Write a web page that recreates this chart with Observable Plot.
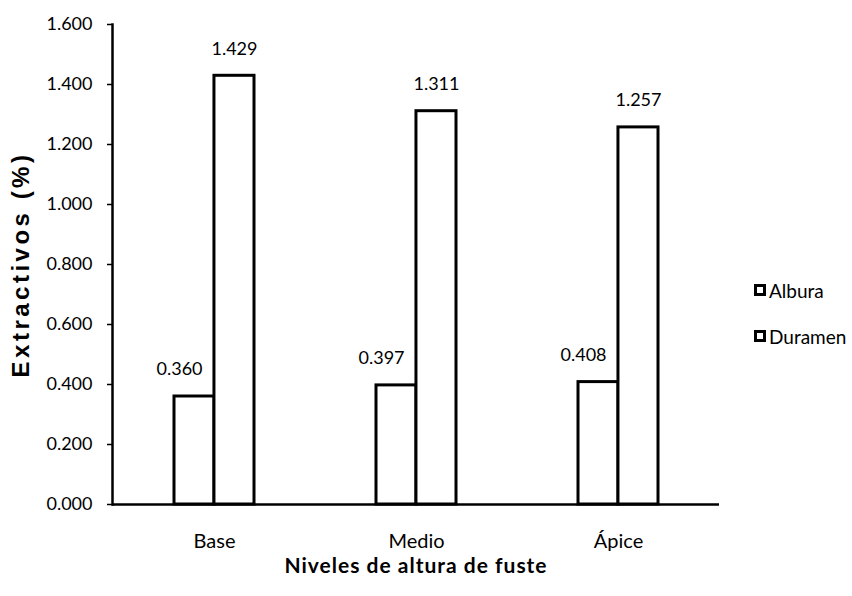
<!DOCTYPE html>
<html>
<head>
<meta charset="utf-8">
<script src="https://cdn.jsdelivr.net/npm/d3@7"></script>
<script src="https://cdn.jsdelivr.net/npm/@observablehq/plot@0.6"></script>
<style>
  html, body { margin: 0; padding: 0; background: #fff; }
  #chart { position: relative; width: 852px; height: 596px; }
  #legend { position: absolute; left: 754px; top: 277px; font-family: Lato, "Open Sans", sans-serif; font-size: 19px; color: #000; }
  #legend .item { display: flex; align-items: center; height: 26px; margin-bottom: 20px; }
  #legend .swatch { width: 6px; height: 6px; border: 3px solid #000; background: #fff; margin-right: 3px; }
</style>
</head>
<body>
<div id="chart"></div>
<script>
// Extractivos por nivel de altura del fuste
const categories = ["Base", "Medio", "Ápice"];
const seriesNames = ["Albura", "Duramen"];
const alburaValues = [0.360, 0.397, 0.408];
const duramenValues = [1.429, 1.311, 1.257];
const yTicks = [0, 0.2, 0.4, 0.6, 0.8, 1.0, 1.2, 1.4, 1.6];
const yTitle = "Extractivos (%)";
const xTitle = "Niveles de altura de fuste";

const rows = (values, serie) => categories.map((c, i) => ({nivel: c, serie, valor: values[i]}));
const albura = rows(alburaValues, seriesNames[0]);
const duramen = rows(duramenValues, seriesNames[1]);

const W = 852, H = 596;
const mL = 112, mR = 133, mT = 24, mB = 92;
const padInner = 0.605;
const step = (W - mL - mR) / categories.length;
const half = step * (1 - padInner) / 2;   // each series takes half of the band

const fmt = d3.format(".3f");
const numFont = "Lato, 'Open Sans', sans-serif";

const chart = Plot.plot({
  width: W,
  height: H,
  marginLeft: mL,
  marginRight: mR,
  marginTop: mT,
  marginBottom: mB,
  style: {fontFamily: numFont, color: "#000", background: "#fff"},
  x: {domain: categories, paddingInner: padInner, paddingOuter: padInner / 2},
  y: {domain: [0, 1.6]},
  marks: [
    Plot.barY(albura, {x: "nivel", y: "valor", insetRight: half, fill: "#fff", stroke: "#000", strokeWidth: 3}),
    Plot.barY(duramen, {x: "nivel", y: "valor", insetLeft: half, fill: "#fff", stroke: "#000", strokeWidth: 3}),
    Plot.text(albura, {x: "nivel", y: "valor", text: d => fmt(d.valor), dx: -half / 2 - 15, dy: -27, fontSize: 18, fill: "#000"}),
    Plot.text(duramen, {x: "nivel", y: "valor", text: d => fmt(d.valor), dx: half / 2, dy: -27, fontSize: 18, fill: "#000"}),
    Plot.axisY({ticks: yTicks, tickFormat: fmt, tickSize: 5, tickPadding: 15, label: null, fontSize: 18, strokeWidth: 1.5}),
    Plot.axisX({tickSize: 0, tickPadding: 29, label: null, fontSize: 20}),
    Plot.frame({anchor: "left", strokeWidth: 2.5}),
    Plot.ruleY([0], {strokeWidth: 2.5}),
    Plot.text([yTitle], {frameAnchor: "left", textAnchor: "middle", dx: -91, rotate: -90, fontSize: 24, fontWeight: "bold", fontFamily: "'Liberation Sans', Arial, sans-serif"}),
    Plot.text([xTitle], {frameAnchor: "bottom", dy: 68, fontSize: 21, fontWeight: "bold"})
  ]
});

// spread the axis titles a little
d3.select(chart).selectAll("text")
  .filter(function () { return this.textContent === yTitle; })
  .attr("letter-spacing", "3.5px");
d3.select(chart).selectAll("text")
  .filter(function () { return this.textContent === xTitle; })
  .attr("letter-spacing", "1px");

const host = document.getElementById("chart");
host.appendChild(chart);

const legend = document.createElement("div");
legend.id = "legend";
seriesNames.forEach(name => {
  const item = document.createElement("div");
  item.className = "item";
  const sw = document.createElement("span");
  sw.className = "swatch";
  const label = document.createElement("span");
  label.textContent = name;
  item.appendChild(sw);
  item.appendChild(label);
  legend.appendChild(item);
});
host.appendChild(legend);
</script>
</body>
</html>
